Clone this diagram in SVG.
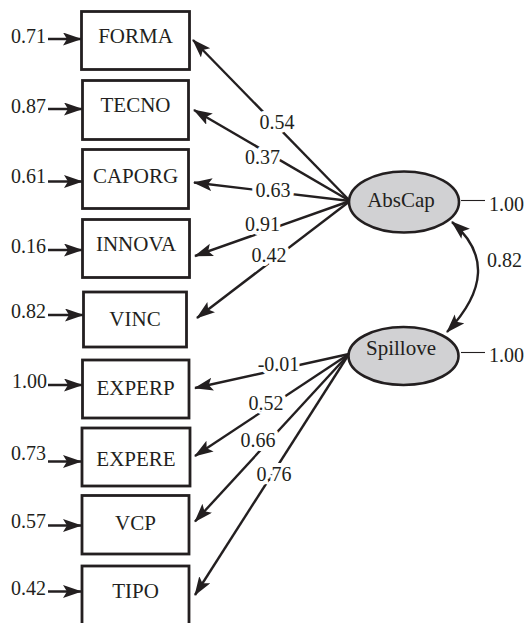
<svg xmlns="http://www.w3.org/2000/svg" width="530" height="623" viewBox="0 0 530 623">
<style>
text{font-family:"Liberation Serif","Times New Roman",serif;fill:#231f20}
.box{fill:#fff;stroke:#231f20;stroke-width:2.8}
.lat{fill:#d1d1d3;stroke:#231f20;stroke-width:2.6}
.nl{font-size:21px;text-anchor:middle}
.num{font-size:20px}
.err{text-anchor:end}
.lbl{text-anchor:middle;stroke:#fff;stroke-width:8;paint-order:stroke;stroke-linejoin:round}
.c{stroke:#231f20;stroke-width:2.4;fill:none;marker-end:url(#ah)}
.thin{stroke:#231f20;stroke-width:1.1;fill:none}
</style>
<defs>
<marker id="ah" markerUnits="userSpaceOnUse" markerWidth="20" markerHeight="14" refX="18" refY="6.5" orient="auto-start-reverse" viewBox="0 0 20 14">
<path d="M0,0 L19,6.5 L0,13 L4,6.5 z" fill="#231f20"/>
</marker>
</defs>
<g id="connectors">
<line class="c" x1="48" y1="39" x2="81" y2="39"/>
<line class="c" x1="48" y1="109" x2="82" y2="109"/>
<line class="c" x1="48" y1="181.5" x2="82" y2="181.5"/>
<line class="c" x1="48" y1="250" x2="82" y2="250"/>
<line class="c" x1="48" y1="315" x2="83" y2="315"/>
<line class="c" x1="48" y1="385" x2="82" y2="385"/>
<line class="c" x1="48" y1="461.5" x2="81" y2="461.5"/>
<line class="c" x1="48" y1="525.5" x2="81" y2="525.5"/>
<line class="c" x1="48" y1="591.5" x2="81" y2="591.5"/>
<line class="c" x1="350" y1="201" x2="193" y2="40"/>
<line class="c" x1="350" y1="201" x2="194" y2="110"/>
<line class="c" x1="350" y1="201" x2="194" y2="182.5"/>
<line class="c" x1="350" y1="201" x2="195" y2="256"/>
<line class="c" x1="350" y1="201" x2="197" y2="318"/>
<line class="c" x1="349" y1="354" x2="195" y2="388"/>
<line class="c" x1="349" y1="354" x2="195" y2="456"/>
<line class="c" x1="349" y1="354" x2="195" y2="521.5"/>
<line class="c" x1="349" y1="354" x2="195" y2="595"/>
<path class="c" d="M452,222 Q506.5,269 447,332" style="marker-start:url(#ah)"/>
<line class="thin" x1="461" y1="200.5" x2="485" y2="200.5"/>
<line class="thin" x1="461" y1="352.5" x2="485" y2="352.5"/>
<text class="num lbl" x="277" y="129">0.54</text>
<text class="num lbl" x="262.5" y="164">0.37</text>
<text class="num lbl" x="273" y="196.5">0.63</text>
<text class="num lbl" x="262.5" y="230.5">0.91</text>
<text class="num lbl" x="269" y="261.5">0.42</text>
<text class="num lbl" x="278.5" y="370.5">-0.01</text>
<text class="num lbl" x="266" y="410">0.52</text>
<text class="num lbl" x="258" y="446.5">0.66</text>
<text class="num lbl" x="274" y="481">0.76</text>
<text class="num" x="487" y="267">0.82</text>
<text class="num" x="489" y="210.5">1.00</text>
<text class="num" x="489" y="361.5">1.00</text>
<text class="num err" x="46" y="43">0.71</text>
<text class="num err" x="46" y="113">0.87</text>
<text class="num err" x="46" y="183">0.61</text>
<text class="num err" x="46" y="253">0.16</text>
<text class="num err" x="46" y="318">0.82</text>
<text class="num err" x="47" y="388">1.00</text>
<text class="num err" x="46" y="460">0.73</text>
<text class="num err" x="46" y="528">0.57</text>
<text class="num err" x="46" y="595">0.42</text>
</g>
<g id="FORMA"><rect class="box" x="81.5" y="11.5" width="108" height="58"/><text class="nl" x="135.5" y="43">FORMA</text></g>
<g id="TECNO"><rect class="box" x="82.5" y="80.5" width="106" height="59"/><text class="nl" x="135.5" y="112">TECNO</text></g>
<g id="CAPORG"><rect class="box" x="82.5" y="149.5" width="106" height="59"/><text class="nl" x="135.5" y="183">CAPORG</text></g>
<g id="INNOVA"><rect class="box" x="82.5" y="219.5" width="107" height="58"/><text class="nl" x="136" y="251">INNOVA</text></g>
<g id="VINC"><rect class="box" x="83.5" y="292" width="103" height="55"/><text class="nl" x="135" y="326">VINC</text></g>
<g id="EXPERP"><rect class="box" x="82.5" y="360" width="106.5" height="58"/><text class="nl" x="135.5" y="395">EXPERP</text></g>
<g id="EXPERE"><rect class="box" x="82" y="428" width="108" height="58"/><text class="nl" x="136" y="466">EXPERE</text></g>
<g id="VCP"><rect class="box" x="82" y="495.5" width="107" height="58.5"/><text class="nl" x="135.5" y="530">VCP</text></g>
<g id="TIPO"><rect class="box" x="82" y="566" width="107" height="62"/><text class="nl" x="135.5" y="598">TIPO</text></g>
<g id="AbsCap"><ellipse class="lat" cx="404" cy="202" rx="55" ry="30.5"/><text class="nl" x="401" y="206.5">AbsCap</text></g>
<g id="Spillove"><ellipse class="lat" cx="403.5" cy="356" rx="55" ry="29"/><text class="nl" x="401" y="355">Spillove</text></g>
</svg>
